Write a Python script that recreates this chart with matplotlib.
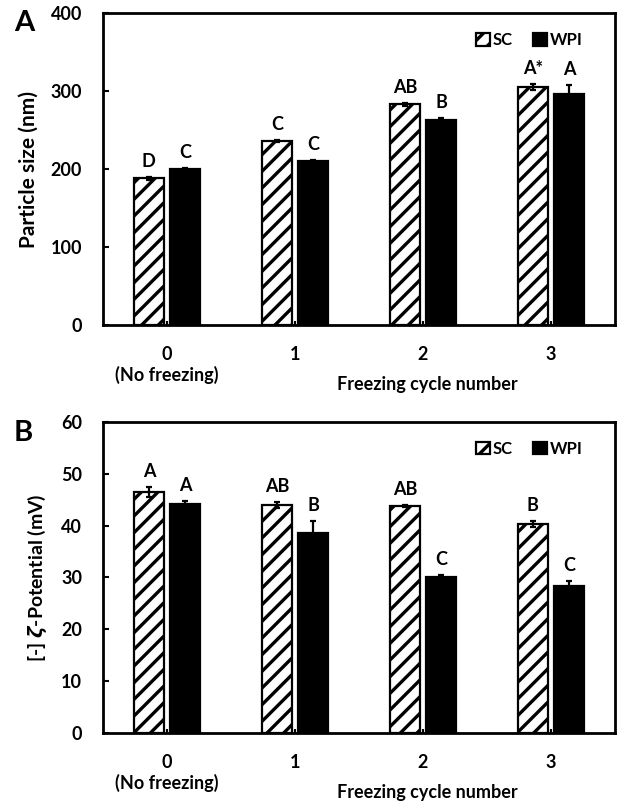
"""Particle size and zeta-potential after freezing cycles (SC vs WPI)."""

import matplotlib
matplotlib.use("Agg")
import matplotlib.pyplot as plt
import numpy as np

plt.rcParams["font.family"] = ["Lato", "DejaVu Sans"]
plt.rcParams["font.weight"] = "bold"
plt.rcParams["hatch.linewidth"] = 2.4
plt.rcParams["mathtext.fontset"] = "dejavusans"

cycles = ["0", "1", "2", "3"]
series = ["SC", "WPI"]

size_sc = [188, 236, 283, 305]
size_sc_err = [1.5, 1.5, 1.5, 4]
size_wpi = [200, 210, 263, 297]
size_wpi_err = [1.5, 1.5, 3, 10.5]
size_sc_letters = ["D", "C", "AB", "A*"]
size_wpi_letters = ["C", "C", "B", "A"]

zeta_sc = [46.5, 44.0, 43.8, 40.3]
zeta_sc_err = [1.0, 0.6, 0.2, 0.65]
zeta_wpi = [44.1, 38.6, 30.1, 28.4]
zeta_wpi_err = [0.65, 2.3, 0.3, 0.9]
zeta_sc_letters = ["A", "AB", "AB", "B"]
zeta_wpi_letters = ["A", "B", "C", "C"]

FS = 13


def panel(ax, sc, sc_err, wpi, wpi_err, sc_lab, wpi_lab, ymax, ystep,
          ylabel, ylabel_size):
    x = np.arange(len(cycles))
    w = 0.235
    off = 0.142
    ax.bar(x - off, sc, w, color="white", edgecolor="black", hatch="//",
           linewidth=1.6, label=series[0], zorder=2)
    ax.bar(x + off, wpi, w, color="black", edgecolor="black",
           linewidth=1.6, label=series[1], zorder=2)
    ax.errorbar(x - off, sc, yerr=sc_err, fmt="none", ecolor="black",
                elinewidth=1.6, capsize=2.5, capthick=1.6, zorder=3)
    ax.errorbar(x + off, wpi, yerr=wpi_err, fmt="none", ecolor="black",
                elinewidth=1.6, capsize=2.5, capthick=1.6, zorder=3)
    for xi, v, e, t in zip(x - off, sc, sc_err, sc_lab):
        ax.annotate(t, (xi, v + e), xytext=(0, 5), textcoords="offset points",
                    ha="center", va="bottom", fontsize=FS, fontweight="bold")
    for xi, v, e, t in zip(x + off, wpi, wpi_err, wpi_lab):
        ax.annotate(t, (xi, v + e), xytext=(0, 5), textcoords="offset points",
                    ha="center", va="bottom", fontsize=FS, fontweight="bold")

    ax.set_xlim(-0.5, 3.5)
    ax.set_ylim(0, ymax)
    ax.set_yticks(np.arange(0, ymax + 1, ystep))
    ax.set_xticks(x)
    ax.set_xticklabels(cycles)
    ax.tick_params(axis="y", direction="in", length=4, width=1.5, pad=15,
                   labelsize=FS)
    ax.tick_params(axis="x", direction="in", length=3, width=1.5, pad=15,
                   labelsize=FS)
    for s in ax.spines.values():
        s.set_linewidth(2)
    ax.set_ylabel(ylabel, fontsize=ylabel_size, fontweight="bold", labelpad=9)
    ax.text(0, -0.16, "(No freezing)", transform=ax.get_xaxis_transform(),
            ha="center", va="center", fontsize=FS, fontweight="bold")
    ax.text(2.03, -0.19, "Freezing cycle number",
            transform=ax.get_xaxis_transform(),
            ha="center", va="center", fontsize=FS, fontweight="bold")
    ax.legend(ncol=2, loc="upper right", bbox_to_anchor=(0.95, 0.96),
              frameon=False, fontsize=12, handlelength=0.8, handleheight=0.8,
              handletextpad=0.2, columnspacing=1.2, borderaxespad=0)


def main():
    fig = plt.figure(figsize=(6.21, 8.05), dpi=100)
    ax1 = fig.add_axes([0.1659, 0.5963, 0.8245, 0.3872])
    ax2 = fig.add_axes([0.1659, 0.0894, 0.8245, 0.3867])

    panel(ax1, size_sc, size_sc_err, size_wpi, size_wpi_err,
          size_sc_letters, size_wpi_letters, 400, 100,
          "Particle size (nm)", 15)
    panel(ax2, zeta_sc, zeta_sc_err, zeta_wpi, zeta_wpi_err,
          zeta_sc_letters, zeta_wpi_letters, 60, 10,
          r"[-] $\zeta$-Potential (mV)", 14)

    fig.text(0.022, 0.972, "A", fontsize=21, fontweight="bold", va="center")
    fig.text(0.022, 0.462, "B", fontsize=21, fontweight="bold", va="center")

    fig.savefig("out.png", dpi=100)


if __name__ == "__main__":
    main()
